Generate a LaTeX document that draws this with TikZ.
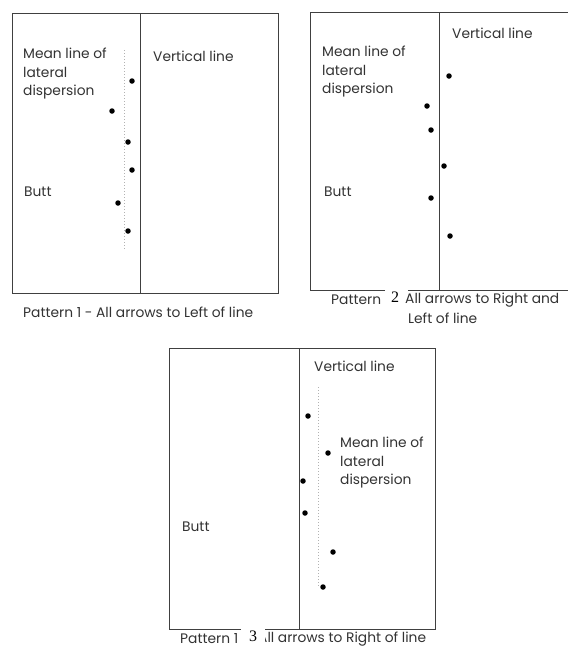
\documentclass[tikz,border=0pt]{standalone}
\usepackage{fontspec}
\setmainfont{Poppins}
\newfontfamily\numfont{Liberation Serif}
\begin{document}
\begin{tikzpicture}[x=1pt,y=-1pt,
  frame/.style={draw=black!75, line width=0.8pt},
  meanline/.style={draw=black!30, line width=1pt, dotted},
  shot/.style={circle, fill=black, inner sep=0pt, minimum size=5.5pt},
  lbl/.style={anchor=west, inner sep=0pt, text=black!80, font=\fontsize{13.8}{18.5}\selectfont, align=left},
  num/.style={inner sep=0pt, font=\numfont\fontsize{16}{16}\selectfont},
  patch/.style={fill=white, draw=none}]
\useasboundingbox (0,0) rectangle (568,657);
\fill[white] (0,0) rectangle (568,657);
\clip (0,0) rectangle (568,657);

% ---- Pattern 1: all to the left ----
\draw[frame] (12,13) rectangle (278,293);
\draw[frame] (140,13) -- (140,293);
\draw[meanline] (124,50) -- (124,250);
\node[lbl] (m1) at (23,74) {Mean line of\\lateral\\dispersion};
\node[lbl] (v1) at (153,56) {Vertical line};
\node[lbl] (b1) at (24,192) {Butt};
\foreach \i/\x/\y in {1/132/81, 2/112/111, 3/128/142, 4/132/170, 5/118/203, 6/128/231}
  \node[shot] (p1s\i) at (\x,\y) {};
\node[lbl] (c1) at (23,312) {Pattern 1 - All arrows to Left of line};

% ---- Pattern 2: right and left ----
\draw[frame] (385,290) -- (310,290) -- (310,12) -- (590,12) -- (590,290) -- (408,290);
\draw[frame] (439,12) -- (439,290);
\node[lbl] (m2) at (322,72) {Mean line of\\lateral\\dispersion};
\node[lbl] (v2) at (452,33) {Vertical line};
\node[lbl] (b2) at (324,192) {Butt};
\foreach \i/\x/\y in {1/449/76, 2/427/106, 3/431/130, 4/444/166, 5/431/198, 6/450/236}
  \node[shot] (p2s\i) at (\x,\y) {};
\node[lbl] (c2a) at (331,300) {Pattern};
\node[num] (n2) at (395,297) {2};
\node[lbl] (c2b) at (405,300) {All arrows to Right and};
\node[lbl] (c2c) at (408,318) {Left of line};

% ---- Pattern 3: all to the right ----
\draw[frame] (169,348) rectangle (435,629);
\draw[frame] (299,348) -- (299,629);
\draw[meanline] (318,387) -- (318,587);
\node[lbl] (v3) at (314,366) {Vertical line};
\node[lbl] (m3) at (340,463) {Mean line of\\lateral\\dispersion};
\node[lbl] (b3) at (182,527) {Butt};
\foreach \i/\x/\y in {1/308/416, 2/328/453, 3/303/481, 4/305/513, 5/333/552, 6/323/587}
  \node[shot] (p3s\i) at (\x,\y) {};
\node[lbl] (c3a) at (180,639) {Pattern 1};
\node[lbl] (c3b) at (258,639) {All arrows to Right of line};
\fill[patch] (241,625) rectangle (265,652);
\node[num] (n3) at (253,636) {3};
\end{tikzpicture}
\end{document}
